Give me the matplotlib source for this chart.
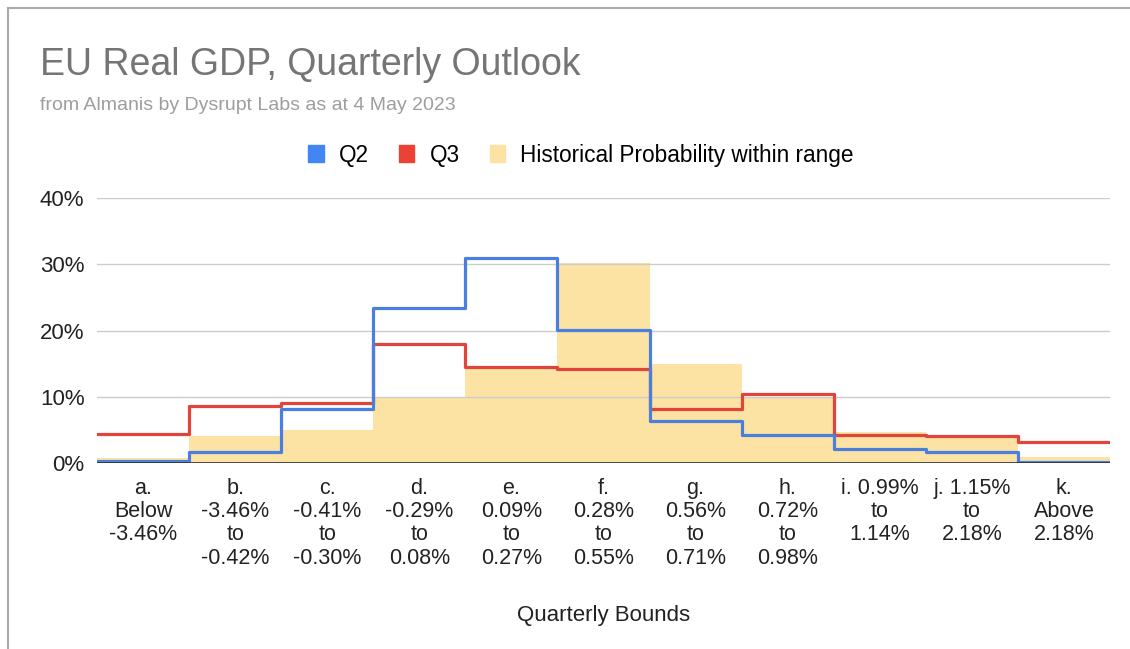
import matplotlib.pyplot as plt
import numpy as np
from matplotlib.patches import Patch
from matplotlib.lines import Line2D

plt.rcParams['font.family'] = ['Liberation Sans', 'DejaVu Sans']

categories = ["a.\nBelow\n-3.46%", "b.\n-3.46%\nto\n-0.42%", "c.\n-0.41%\nto\n-0.30%",
              "d.\n-0.29%\nto\n0.08%", "e.\n0.09%\nto\n0.27%", "f.\n0.28%\nto\n0.55%",
              "g.\n0.56%\nto\n0.71%", "h.\n0.72%\nto\n0.98%", "i. 0.99%\nto\n1.14%",
              "j. 1.15%\nto\n2.18%", "k.\nAbove\n2.18%"]
q2 = [0.3, 1.6, 8.1, 23.4, 30.9, 20.1, 6.4, 4.3, 2.1, 1.6, 0.2]
q3 = [4.4, 8.6, 9.0, 17.9, 14.5, 14.2, 8.1, 10.4, 4.3, 4.1, 3.1]
historical = [0.8, 4.0, 5.0, 10.0, 14.7, 30.2, 15.0, 10.0, 4.7, 4.3, 0.9]
yticks = [0, 10, 20, 30, 40]

edges = np.arange(len(categories) + 1)

fig = plt.figure(figsize=(11.3, 6.49), dpi=100)
ax = fig.add_axes([0.0858, 0.2866, 0.8965, 0.4083])

ax.stairs(historical, edges, fill=True, color='#fce3a4', zorder=1)
ax.stairs(q3, edges, baseline=None, color='#e0443a', linewidth=2.3, zorder=3,
          joinstyle='round', capstyle='round')
ax.stairs(q2, edges, baseline=None, color='#4a7fde', linewidth=2.3, zorder=4,
          joinstyle='round', capstyle='round')

ax.set_xlim(0, len(categories))
ax.set_ylim(0, 40)
ax.set_yticks(yticks)
ax.set_yticklabels([f"{t}%" for t in yticks], fontsize=16, color='#222222')
ax.set_xticks(edges[:-1] + 0.5)
ax.set_xticklabels(categories, fontsize=15.5, color='#222222', linespacing=1.13)
ax.tick_params(length=0, pad=9)
ax.tick_params(axis='x', pad=11)
ax.grid(axis='y', color='#cccccc', linewidth=1, zorder=0)
ax.axhline(0, color='#333333', linewidth=1.2, zorder=5)
for s in ax.spines.values():
    s.set_visible(False)

ax.set_xlabel("Quarterly Bounds", fontsize=16, color='#222222', labelpad=26)

fig.text(0.035, 0.885, "EU Real GDP, Quarterly Outlook", fontsize=27, color='#757575')
fig.text(0.035, 0.83, "from Almanis by Dysrupt Labs as at 4 May 2023", fontsize=14,
         color='#9e9e9e')

handles = [Patch(color='#4285f4', label='Q2'), Patch(color='#ea4335', label='Q3'),
           Patch(color='#fce3a4', label='Historical Probability within range')]
fig.legend(handles=handles, loc='center', bbox_to_anchor=(0.514, 0.761), ncol=3,
           frameon=False, fontsize=16.3, handlelength=0.7, handleheight=0.75,
           columnspacing=1.33, handletextpad=0.66)

fig.add_artist(Line2D([0.007, 1.0], [0.987, 0.987], color='#aaaaaa', linewidth=1.5))
fig.add_artist(Line2D([0.007, 0.007], [0.0, 0.987], color='#aaaaaa', linewidth=1.5))

fig.savefig("out.png", dpi=100)
